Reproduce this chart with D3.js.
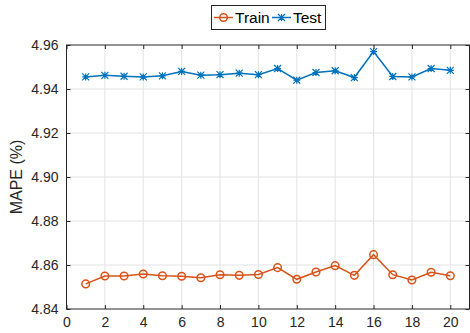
<!DOCTYPE html>
<html>
<head>
<meta charset="utf-8">
<script src="https://cdn.jsdelivr.net/npm/d3@7"></script>
<style>
  html, body { margin: 0; padding: 0; background: #fff; }
  svg { display: block; font-family: "Liberation Sans", Arial, Helvetica, sans-serif; }
</style>
</head>
<body>
<svg id="chart" width="470" height="333"></svg>
<script>
// Iteration index (x) and MAPE values for both sets
const iterations = d3.range(1, 21);
const trainMAPE = [4.8514, 4.8550, 4.8550, 4.8559, 4.8551, 4.8549, 4.8542, 4.8556, 4.8553, 4.8557,
                   4.8588, 4.8535, 4.8568, 4.8597, 4.8553, 4.8647, 4.8556, 4.8532, 4.8567, 4.8551];
const testMAPE  = [4.9455, 4.9462, 4.9458, 4.9455, 4.9460, 4.9480, 4.9463, 4.9465, 4.9472, 4.9465,
                   4.9493, 4.9440, 4.9475, 4.9483, 4.9452, 4.9570, 4.9457, 4.9455, 4.9493, 4.9485];
const xTicks = [0, 2, 4, 6, 8, 10, 12, 14, 16, 18, 20];
const yTicks = [4.84, 4.86, 4.88, 4.90, 4.92, 4.94, 4.96];
const seriesNames = ["Train", "Test"];
const seriesColors = ["#D95319", "#0072BD"];

const svg = d3.select("#chart");
const L = 66.5, R = 469.5, T = 45, B = 309;

const x = d3.scaleLinear().domain([0, 21]).range([L, R]);
const y = d3.scaleLinear().domain([4.84, 4.96]).range([B, T]);

const axisColor = "#262626";
const gridColor = "#e3e3e3";

// grid
const grid = svg.append("g");
grid.selectAll("line.gx").data(xTicks.filter(d => d > 0)).join("line")
  .attr("x1", d => x(d)).attr("x2", d => x(d)).attr("y1", T).attr("y2", B)
  .attr("stroke", gridColor).attr("stroke-width", 1);
grid.selectAll("line.gy").data(yTicks.filter(d => d > 4.84 && d < 4.96)).join("line")
  .attr("x1", L).attr("x2", R).attr("y1", d => y(d)).attr("y2", d => y(d))
  .attr("stroke", gridColor).attr("stroke-width", 1);

// axes with inward ticks
const fmtY = d3.format(".2f");
const xAxis = svg.append("g").attr("transform", `translate(0,${B})`)
  .call(d3.axisBottom(x).tickValues(xTicks).tickSizeInner(-4).tickSizeOuter(0).tickPadding(8));
const yAxis = svg.append("g").attr("transform", `translate(${L},0)`)
  .call(d3.axisLeft(y).tickValues(yTicks).tickFormat(fmtY).tickSizeInner(-4).tickSizeOuter(0).tickPadding(8));
const xTop = svg.append("g").attr("transform", `translate(0,${T})`)
  .call(d3.axisTop(x).tickValues(xTicks).tickSizeInner(-4).tickSizeOuter(0).tickFormat(""));
const yRight = svg.append("g").attr("transform", `translate(${R},0)`)
  .call(d3.axisRight(y).tickValues(yTicks).tickSizeInner(-4).tickSizeOuter(0).tickFormat(""));

[xAxis, yAxis, xTop, yRight].forEach(g => {
  g.select(".domain").remove();
  g.selectAll(".tick line").attr("stroke", axisColor);
  g.selectAll("text").attr("fill", axisColor).style("font-size", "14px");
});

// box
svg.append("rect").attr("x", L).attr("y", T).attr("width", R - L).attr("height", B - T)
  .attr("fill", "none").attr("stroke", axisColor).attr("stroke-width", 1);

// y label
svg.append("text")
  .attr("transform", `translate(22,${(T + B) / 2}) rotate(-90)`)
  .attr("text-anchor", "middle")
  .attr("fill", axisColor)
  .style("font-size", "16px")
  .text("MAPE (%)");

const line = d3.line().x((d, i) => x(iterations[i])).y(d => y(d));

function drawCircle(g, cx, cy, color) {
  g.append("circle").attr("cx", cx).attr("cy", cy).attr("r", 3.8)
    .attr("fill", "none").attr("stroke", color).attr("stroke-width", 1.5);
}
function drawStar(g, cx, cy, color) {
  const s = 3.5;
  const p = `M${cx},${cy - s}L${cx},${cy + s}M${cx - s},${cy - s}L${cx + s},${cy + s}M${cx - s},${cy + s}L${cx + s},${cy - s}M${cx - s},${cy}L${cx + s},${cy}`;
  g.append("path").attr("d", p).attr("stroke", color).attr("stroke-width", 1.2).attr("fill", "none");
}

// Train series
const gTrain = svg.append("g");
gTrain.append("path").datum(trainMAPE).attr("d", line)
  .attr("fill", "none").attr("stroke", seriesColors[0]).attr("stroke-width", 1.5);
trainMAPE.forEach((v, i) => drawCircle(gTrain, x(iterations[i]), y(v), seriesColors[0]));

// Test series
const gTest = svg.append("g");
gTest.append("path").datum(testMAPE).attr("d", line)
  .attr("fill", "none").attr("stroke", seriesColors[1]).attr("stroke-width", 1.5);
testMAPE.forEach((v, i) => drawStar(gTest, x(iterations[i]), y(v), seriesColors[1]));

// legend
const lg = svg.append("g");
lg.append("rect").attr("x", 211.5).attr("y", 5.5).attr("width", 114).attr("height", 24)
  .attr("fill", "#fff").attr("stroke", axisColor).attr("stroke-width", 1);
const ly = 17.5;
lg.append("line").attr("x1", 214).attr("x2", 233).attr("y1", ly).attr("y2", ly)
  .attr("stroke", seriesColors[0]).attr("stroke-width", 1.5);
drawCircle(lg, 223.5, ly, seriesColors[0]);
lg.append("text").attr("x", 235).attr("y", ly + 5.5).attr("fill", "#000")
  .style("font-size", "15.5px").text(seriesNames[0]);
lg.append("line").attr("x1", 272).attr("x2", 291).attr("y1", ly).attr("y2", ly)
  .attr("stroke", seriesColors[1]).attr("stroke-width", 1.5);
drawStar(lg, 281.5, ly, seriesColors[1]);
lg.append("text").attr("x", 293).attr("y", ly + 5.5).attr("fill", "#000")
  .style("font-size", "15.5px").text(seriesNames[1]);
</script>
</body>
</html>
